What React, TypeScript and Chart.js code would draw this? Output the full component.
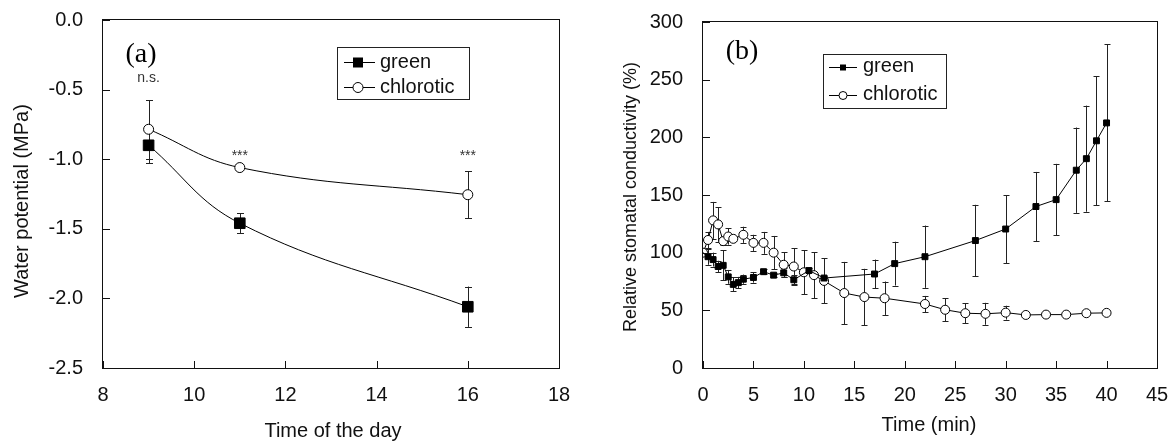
import React, { useEffect, useRef } from 'react';
import { Chart, registerables } from 'chart.js';

Chart.register(...registerables);

const FONT = "'Liberation Sans', Arial, Helvetica, sans-serif";
const SERIF = "'Liberation Serif', 'Times New Roman', serif";

// ---------- Panel (a) data ----------
const aTime = [9, 11, 16];
const aGreen = [-0.9, -1.46, -2.06];
const aGreenErr = [0.13, 0.07, 0.145];
const aChlorotic = [-0.785, -1.06, -1.255];
const aChloroticErr = [0.21, 0.0, 0.17];
const aNoteText = ['n.s.', '***', '***'];
const aNoteY = [-0.417, -0.975, -0.975];
const aXTicks = { min: 8, max: 18, step: 2 };
const aYTicks = { min: -2.5, max: 0, step: 0.5 };

// ---------- Panel (b) data ----------
const bGreenTime = [0, 0.5, 1, 1.5, 2, 2.5, 3, 3.5, 4, 5, 6, 7, 8, 9, 10.5, 12, 17, 19, 22, 27, 30, 33, 35, 37, 38, 39, 40];
const bGreen = [100, 96.5, 94, 88, 89, 79, 72.5, 74, 77, 78.5, 83.5, 80.5, 82.5, 76.5, 84.5, 78, 81.5, 90.5, 96.5, 110.5, 120.5, 140, 146, 171.5, 181.5, 197, 212.5];
const bGreenErr = [0, 7, 6, 5, 13, 6, 6, 5, 4, 4.5, 2, 2, 4, 4, 2, 2, 12.5, 19, 27, 31, 29.5, 30, 31, 37, 46, 56, 68];
const bChlTime = [0, 0.5, 1, 1.5, 2, 2.5, 3, 4, 5, 6, 7, 8, 9, 10, 11, 12, 14, 16, 18, 22, 24, 26, 28, 30, 32, 34, 36, 38, 40];
const bChl = [100, 111, 128, 124.5, 110, 114, 112, 115.5, 108.5, 108.5, 100, 89.5, 88, 83, 80.5, 75.5, 65, 61.5, 60.5, 55.5, 50.5, 47.5, 47, 48, 46, 46.3, 46.3, 47.5, 47.8];
const bChlErr = [0, 7, 16, 15, 3, 7, 2, 7, 7, 9.5, 14.5, 11, 16, 19, 20, 19.5, 27, 24.5, 14.5, 7, 10, 8.5, 9.5, 6, 2, 1, 1, 1, 1];
const bXTicks = { min: 0, max: 45, step: 5 };
const bYTicks = { min: 0, max: 300, step: 50 };

const seriesNames = ['green', 'chlorotic'];

type Series = {
  x: number[];
  y: number[];
  err: number[];
  style: 'rect' | 'circle';
  radius: number;
  hideFirst?: boolean;
};

type Panel = {
  key: string;
  width: number;
  height: number;
  area: { left: number; top: number; right: number; bottom: number };
  xT: { min: number; max: number; step: number };
  yT: { min: number; max: number; step: number };
  yFmt: (v: number) => string;
  series: Series[];
  tension: number;
  cap: number;
  xPad: number;
  yPad: number;
  legend: {
    box: [number, number, number, number];
    lineX0: number;
    lineX1: number;
    markX: number;
    textX: number;
    rows: { lineY: number; baseY: number }[];
    sq: number;
    cr: number;
  };
  label: { text: string; x: number; y: number; size: number };
  xTitle: { text: string; x: number; y: number; size: number };
  yTitle: { text: string; x: number; y: number; size: number };
  notes?: { x: number; y: number; text: string }[];
};

function makePlugin(p: Panel) {
  return {
    id: 'panel_' + p.key,
    beforeDatasetsDraw(chart: any) {
      const ctx = chart.ctx;
      const xs = chart.scales.x;
      const ys = chart.scales.y;
      ctx.save();
      ctx.strokeStyle = '#222';
      ctx.lineWidth = 1;
      p.series.forEach((s) => {
        s.x.forEach((xv, i) => {
          const e = s.err[i];
          if (!e) return;
          const px = Math.round(xs.getPixelForValue(xv)) + 0.5;
          const y1 = ys.getPixelForValue(s.y[i] + e);
          const y2 = ys.getPixelForValue(s.y[i] - e);
          ctx.beginPath();
          ctx.moveTo(px, y1);
          ctx.lineTo(px, y2);
          ctx.moveTo(px - p.cap, Math.round(y1) + 0.5);
          ctx.lineTo(px + p.cap, Math.round(y1) + 0.5);
          ctx.moveTo(px - p.cap, Math.round(y2) + 0.5);
          ctx.lineTo(px + p.cap, Math.round(y2) + 0.5);
          ctx.stroke();
        });
      });
      ctx.restore();
    },
    afterDraw(chart: any) {
      const ctx = chart.ctx;
      const a = chart.chartArea;
      const xs = chart.scales.x;
      const ys = chart.scales.y;
      ctx.save();
      // plot frame
      ctx.strokeStyle = '#111';
      ctx.lineWidth = 1;
      ctx.strokeRect(a.left - 0.5, a.top - 0.5, a.right - a.left + 1, a.bottom - a.top + 1);
      // inward ticks
      ctx.beginPath();
      xs.ticks.forEach((t: any) => {
        const px = Math.round(xs.getPixelForValue(t.value)) + 0.5;
        ctx.moveTo(px, a.bottom);
        ctx.lineTo(px, a.bottom - 7);
      });
      ys.ticks.forEach((t: any) => {
        const py = Math.round(ys.getPixelForValue(t.value)) + 0.5;
        ctx.moveTo(a.left, py);
        ctx.lineTo(a.left + 7, py);
      });
      ctx.stroke();

      // legend
      const L = p.legend;
      ctx.strokeStyle = '#222';
      ctx.strokeRect(L.box[0] + 0.5, L.box[1] + 0.5, L.box[2], L.box[3]);
      ctx.font = `20px ${FONT}`;
      ctx.fillStyle = '#111';
      ctx.textAlign = 'left';
      ctx.textBaseline = 'alphabetic';
      L.rows.forEach((r, i) => {
        ctx.strokeStyle = '#000';
        ctx.beginPath();
        ctx.moveTo(L.lineX0, r.lineY + 0.5);
        ctx.lineTo(L.lineX1, r.lineY + 0.5);
        ctx.stroke();
        if (p.series[i].style === 'rect') {
          ctx.fillStyle = '#000';
          ctx.fillRect(L.markX - L.sq / 2, r.lineY + 0.5 - L.sq / 2, L.sq, L.sq);
        } else {
          ctx.fillStyle = '#fff';
          ctx.beginPath();
          ctx.arc(L.markX, r.lineY + 0.5, L.cr, 0, Math.PI * 2);
          ctx.fill();
          ctx.stroke();
        }
        ctx.fillStyle = '#111';
        ctx.fillText(seriesNames[i], L.textX, r.baseY);
      });

      // panel label
      ctx.font = `${p.label.size}px ${SERIF}`;
      ctx.textAlign = 'center';
      ctx.textBaseline = 'middle';
      ctx.fillStyle = '#000';
      ctx.fillText(p.label.text, p.label.x, p.label.y);

      // notes
      if (p.notes) {
        ctx.font = `14px ${FONT}`;
        ctx.fillStyle = '#333';
        p.notes.forEach((n) => {
          ctx.fillText(n.text, xs.getPixelForValue(n.x), ys.getPixelForValue(n.y));
        });
      }

      // axis titles
      ctx.fillStyle = '#111';
      ctx.font = `${p.xTitle.size}px ${FONT}`;
      ctx.fillText(p.xTitle.text, p.xTitle.x, p.xTitle.y);
      ctx.save();
      ctx.translate(p.yTitle.x, p.yTitle.y);
      ctx.rotate(-Math.PI / 2);
      ctx.font = `${p.yTitle.size}px ${FONT}`;
      ctx.fillText(p.yTitle.text, 0, 0);
      ctx.restore();
      ctx.restore();
    },
  };
}

function buildConfig(p: Panel): any {
  const datasets = p.series.map((s, si) => ({
    label: seriesNames[si],
    data: s.x.map((xv, i) => ({ x: xv, y: s.y[i] })),
    borderColor: '#000',
    borderWidth: 1,
    backgroundColor: s.style === 'rect' ? '#000' : '#fff',
    pointStyle: s.style,
    pointRadius: s.x.map((_, i) => (s.hideFirst && i === 0 ? 0 : s.radius)),
    pointBorderColor: '#000',
    pointBackgroundColor: s.style === 'rect' ? '#000' : '#fff',
    pointBorderWidth: 1,
    tension: p.tension,
    fill: false,
  }));
  const tickFont = { size: 20, family: FONT };
  return {
    type: 'line',
    data: { datasets },
    options: {
      animation: false,
      responsive: false,
      events: [],
      layout: {
        padding: { left: 0, bottom: 0, top: p.area.top, right: p.width - p.area.right },
      },
      plugins: { legend: { display: false }, title: { display: false }, tooltip: { enabled: false } },
      scales: {
        x: {
          type: 'linear',
          min: p.xT.min,
          max: p.xT.max,
          grid: { display: false, drawTicks: false },
          border: { display: false },
          ticks: { stepSize: p.xT.step, font: tickFont, color: '#111', padding: p.xPad, maxRotation: 0, autoSkip: false },
          afterFit: (sc: any) => {
            sc.height = p.height - p.area.bottom;
            sc.paddingLeft = 0;
            sc.paddingRight = 0;
          },
        },
        y: {
          type: 'linear',
          min: p.yT.min,
          max: p.yT.max,
          grid: { display: false, drawTicks: false },
          border: { display: false },
          ticks: {
            stepSize: p.yT.step,
            font: tickFont,
            color: '#111',
            padding: p.yPad,
            autoSkip: false,
            callback: (v: number) => p.yFmt(v),
          },
          afterFit: (sc: any) => {
            sc.width = p.area.left;
            sc.paddingTop = 0;
            sc.paddingBottom = 0;
          },
        },
      },
    },
    plugins: [makePlugin(p)],
  };
}

const panelA: Panel = {
  key: 'a',
  width: 580,
  height: 441,
  area: { left: 103, top: 20, right: 559, bottom: 368 },
  xT: aXTicks,
  yT: aYTicks,
  yFmt: (v) => (Math.abs(v) < 1e-9 ? '0.0' : v.toFixed(1)),
  series: [
    { x: aTime, y: aGreen, err: aGreenErr, style: 'rect', radius: 7.5 },
    { x: aTime, y: aChlorotic, err: aChloroticErr, style: 'circle', radius: 5 },
  ],
  tension: 0.4,
  cap: 3.5,
  xPad: 15,
  yPad: 20,
  legend: {
    box: [337, 47, 132, 52],
    lineX0: 344,
    lineX1: 375,
    markX: 358,
    textX: 380,
    rows: [
      { lineY: 62, baseY: 68 },
      { lineY: 87, baseY: 93 },
    ],
    sq: 10,
    cr: 5,
  },
  label: { text: '(a)', x: 141, y: 55, size: 28 },
  xTitle: { text: 'Time of the day', x: 333, y: 431, size: 20 },
  yTitle: { text: 'Water potential (MPa)', x: 22, y: 201, size: 20 },
  notes: aTime.map((t, i) => ({ x: t, y: aNoteY[i], text: aNoteText[i] })),
};

const panelB: Panel = {
  key: 'b',
  width: 588,
  height: 441,
  area: { left: 123, top: 22, right: 577, bottom: 368 },
  xT: bXTicks,
  yT: bYTicks,
  yFmt: (v) => String(Math.round(v)),
  series: [
    { x: bGreenTime, y: bGreen, err: bGreenErr, style: 'rect', radius: 4.2, hideFirst: true },
    { x: bChlTime, y: bChl, err: bChlErr, style: 'circle', radius: 4.5 },
  ],
  tension: 0,
  cap: 3,
  xPad: 15,
  yPad: 20,
  legend: {
    box: [243, 54, 123, 54],
    lineX0: 249,
    lineX1: 277,
    markX: 263,
    textX: 283,
    rows: [
      { lineY: 67, baseY: 72 },
      { lineY: 95, baseY: 100 },
    ],
    sq: 6,
    cr: 4,
  },
  label: { text: '(b)', x: 162, y: 52, size: 28 },
  xTitle: { text: 'Time (min)', x: 349, y: 425, size: 20 },
  yTitle: { text: 'Relative stomatal conductivity (%)', x: 51, y: 197, size: 18 },
};

function PanelChart({ panel, left }: { panel: Panel; left: number }) {
  const ref = useRef<HTMLCanvasElement | null>(null);
  useEffect(() => {
    if (!ref.current) return;
    const chart = new Chart(ref.current, buildConfig(panel));
    return () => chart.destroy();
  }, [panel]);
  return (
    <canvas
      ref={ref}
      width={panel.width}
      height={panel.height}
      style={{ position: 'absolute', left, top: 0, width: panel.width, height: panel.height }}
    />
  );
}

export default function App() {
  return (
    <div style={{ position: 'absolute', left: 0, top: 0, width: 1168, height: 441, background: '#fff', overflow: 'hidden' }}>
      <PanelChart panel={panelA} left={0} />
      <PanelChart panel={panelB} left={580} />
    </div>
  );
}
